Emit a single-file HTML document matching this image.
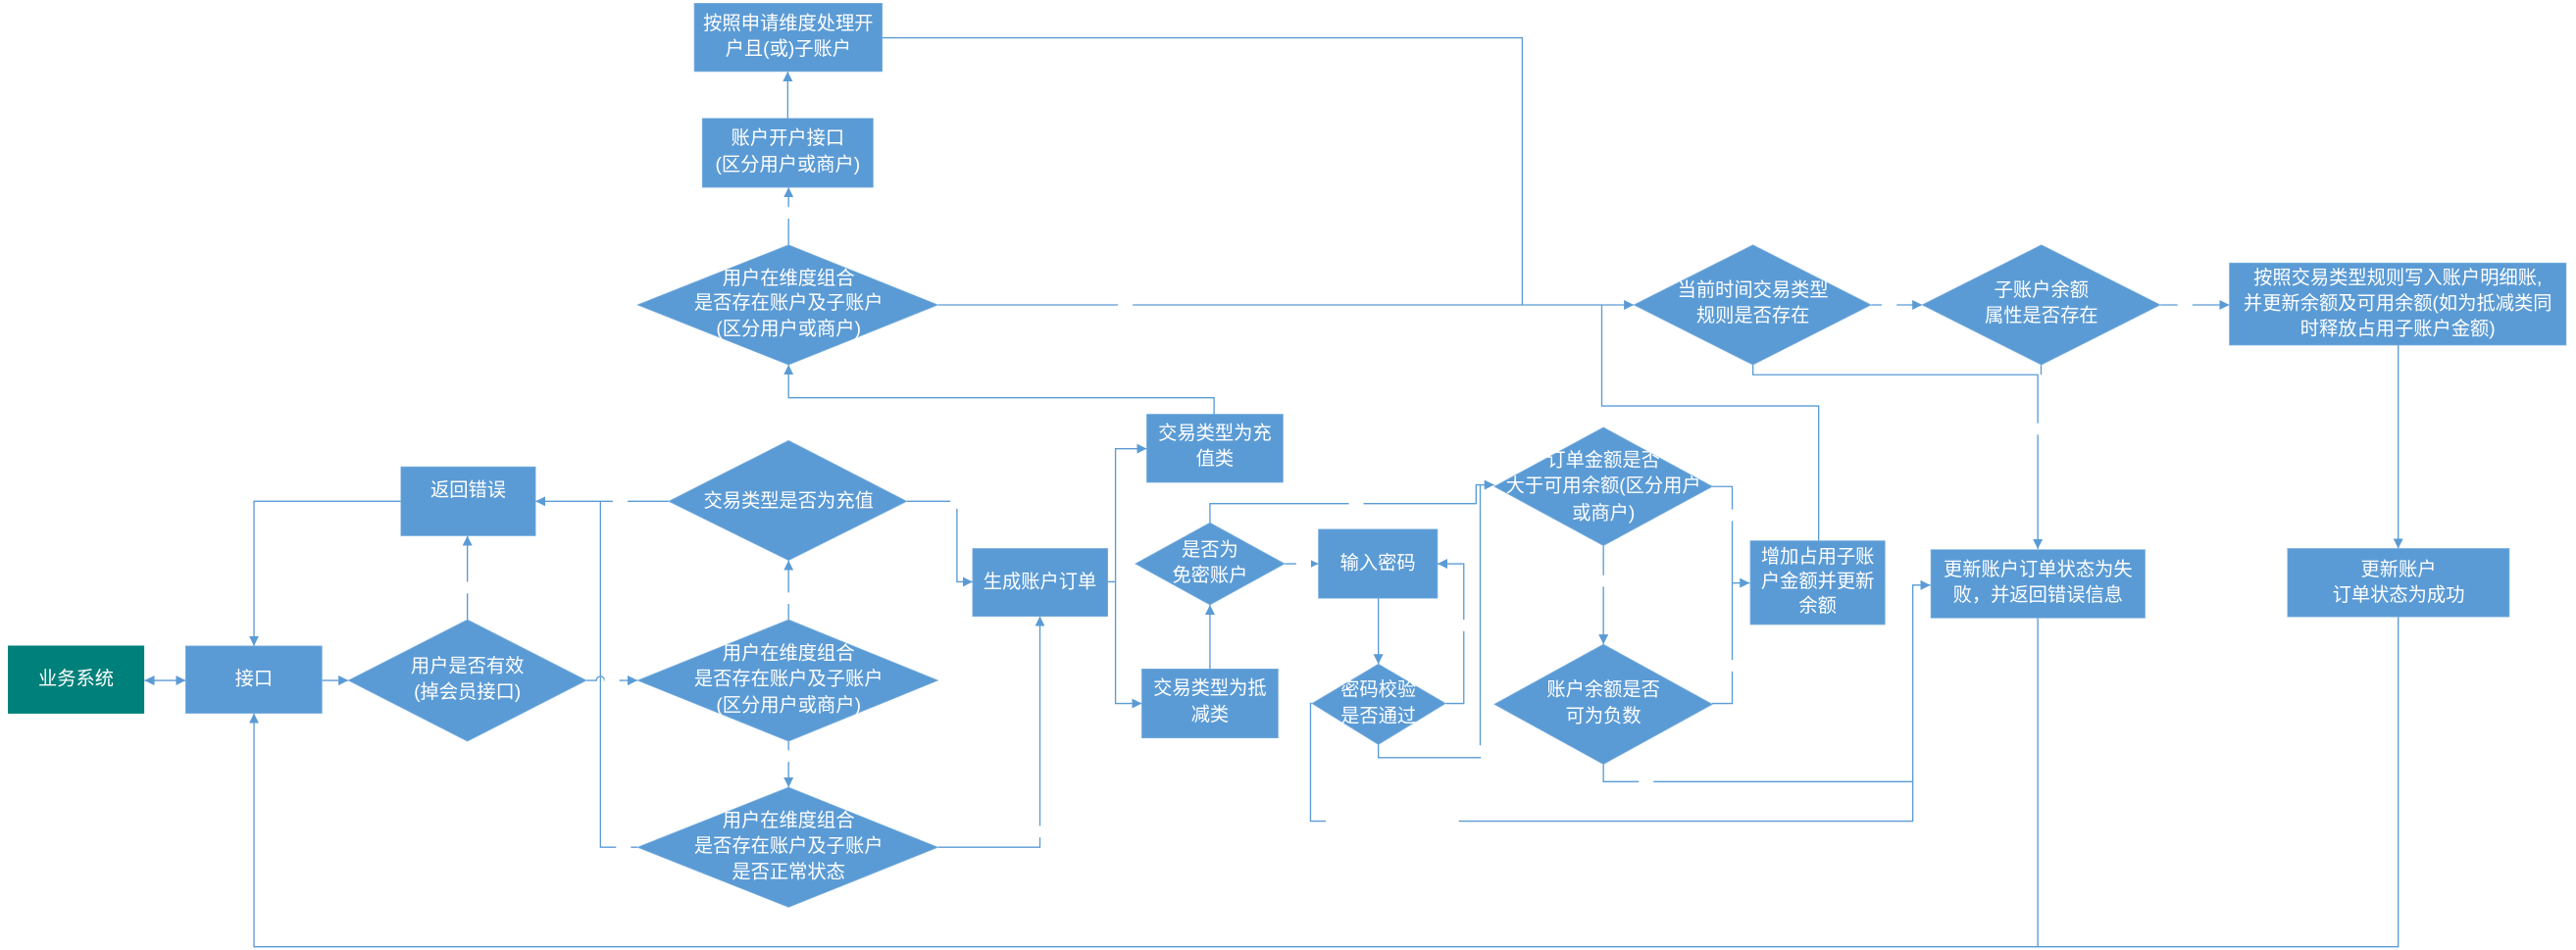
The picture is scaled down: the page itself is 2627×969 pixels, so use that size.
<!DOCTYPE html>
<html><head><meta charset="utf-8"><style>
html,body{margin:0;padding:0;background:#fff;}
svg{display:block;}
text{font-family:"Liberation Sans","Noto Sans CJK SC",sans-serif;fill:#fff;}
.l{fill:#5b9bd5;font-size:5.5px;}
</style></head><body>
<svg width="2627" height="969" viewBox="0 0 1568 578" preserveAspectRatio="none" xmlns="http://www.w3.org/2000/svg">
<defs>
<marker id="a" markerUnits="userSpaceOnUse" markerWidth="8" markerHeight="8" refX="6" refY="3" orient="auto"><path d="M0,0 L6,3 L0,6 z" fill="#5b9bd5"/></marker>
<marker id="s" markerUnits="userSpaceOnUse" markerWidth="8" markerHeight="8" refX="0" refY="3" orient="auto"><path d="M6,0 L0,3 L6,6 z" fill="#5b9bd5"/></marker>
</defs>
<g fill="none" stroke="#5b9bd5" stroke-width="0.8">
<!-- 业务系统 <-> 接口 -->
<path d="M88,414 H113" marker-start="url(#s)" marker-end="url(#a)"/>
<path d="M196,414 H212" marker-end="url(#a)"/>
<path d="M284.5,377 V326" marker-end="url(#a)"/>
<path d="M357,414 H363 a2.5,2.5 0 0 1 5,0 H388" marker-end="url(#a)"/>
<path d="M407,305 H326" marker-end="url(#a)"/>
<path d="M244,305 H154.6 V393" marker-end="url(#a)"/>
<path d="M365.5,305 V515.5 H388"/>
<path d="M480,377 V341" marker-end="url(#a)"/>
<path d="M480,451 V479" marker-end="url(#a)"/>
<path d="M552,305 H582.5 V354 H592" marker-end="url(#a)"/>
<path d="M571,515.5 H633 V375" marker-end="url(#a)"/>
<path d="M480,149 V114" marker-end="url(#a)"/>
<path d="M479.5,72 V43.5" marker-end="url(#a)"/>
<path d="M537,23 H926.6 V185.5"/>
<path d="M571,185.5 H994.5" marker-end="url(#a)"/>
<path d="M674,354 H679 V273 H698" marker-end="url(#a)"/>
<path d="M679,354 V428 H695" marker-end="url(#a)"/>
<path d="M739,252 V242 H480 V222" marker-end="url(#a)"/>
<path d="M736.5,407 V368" marker-end="url(#a)"/>
<path d="M736.5,318 V306.4 H898.5 V295 H909.5" marker-end="url(#a)"/>
<path d="M782,343 H802.5" marker-end="url(#a)"/>
<path d="M839,364 V404" marker-end="url(#a)"/>
<path d="M880,428 H891 V343 H875" marker-end="url(#a)"/>
<path d="M839,453 V461 H901 V295"/>
<path d="M798.5,428 H797.7 V499.6 H1164.3 V356 H1175" marker-end="url(#a)"/>
<path d="M976,332 V392" marker-end="url(#a)"/>
<path d="M1042,296 H1054.4 V428 H1042"/>
<path d="M1054.4,354.7 H1065" marker-end="url(#a)"/>
<path d="M976,465 V475.6 H1164.3"/>
<path d="M1107,329 V247 H975 V185.5"/>
<path d="M1067,222 V228 H1240.4 V334" marker-end="url(#a)"/>
<path d="M1242.4,222 V228"/>
<path d="M1139,185.5 H1170" marker-end="url(#a)"/>
<path d="M1315,185.5 H1357" marker-end="url(#a)"/>
<path d="M1459.8,210 V333.7" marker-end="url(#a)"/>
<path d="M1240.4,376 V576"/>
<path d="M1459.8,375.3 V576 H154.6 V434" marker-end="url(#a)"/>
</g>
<g fill="#5b9bd5" stroke="#7fb3e0" stroke-width="0.4">
<rect x="5" y="393" width="82.6" height="41" fill="#00807a" stroke="#00807a"/>
<rect x="113" y="393" width="83" height="41"/>
<rect x="244" y="284" width="82" height="42"/>
<rect x="427.5" y="72" width="104" height="42"/>
<rect x="422.6" y="2" width="114.4" height="41.5"/>
<rect x="592" y="333.7" width="82.3" height="41.3"/>
<rect x="698" y="252" width="83" height="41.5"/>
<rect x="695" y="407" width="83" height="42"/>
<rect x="802.5" y="322" width="72.5" height="42"/>
<rect x="1065.4" y="329" width="82" height="51"/>
<rect x="1357" y="160" width="205" height="50"/>
<rect x="1175.3" y="334.4" width="130.4" height="41.6"/>
<rect x="1392.4" y="333.7" width="135" height="41.6"/>
<polygon points="212,414 284.5,377 357,414 284.5,451"/>
<polygon points="407,305 480,268 552,305 480,341"/>
<polygon points="388,414 480,377 571,414 480,451"/>
<polygon points="388,515.5 480,479 571,515.5 480,552"/>
<polygon points="388,185.5 480,149 571,185.5 480,222"/>
<polygon points="691,343 736.5,318 782,343 736.5,368"/>
<polygon points="798.5,428 839,404 880,428 839,453"/>
<polygon points="909.5,296 976,260 1042.4,296 976,332"/>
<polygon points="909.5,428.5 976,392 1042.4,428.5 976,465"/>
<polygon points="994.5,185.5 1067,149 1139,185.5 1067,222"/>
<polygon points="1170,185.5 1242.6,149 1315,185.5 1242.6,222"/>
</g>
<g font-size="11.5" text-anchor="middle" dominant-baseline="central">
<text x="46.3" y="413.5">业务系统</text>
<text x="154.5" y="413.5">接口</text>
<text x="285" y="298.5">返回错误</text>
<text x="284.5" y="405.5">用户是否有效</text>
<text x="284.5" y="421.5">(掉会员接口)</text>
<text x="480" y="305">交易类型是否为充值</text>
<text x="480" y="398">用户在维度组合</text>
<text x="480" y="413.5">是否存在账户及子账户</text>
<text x="480" y="429.5">(区分用户或商户)</text>
<text x="480" y="499.5">用户在维度组合</text>
<text x="480" y="515">是否存在账户及子账户</text>
<text x="480" y="531">是否正常状态</text>
<text x="480" y="169.6">用户在维度组合</text>
<text x="480" y="184.7">是否存在账户及子账户</text>
<text x="480" y="200.5">(区分用户或商户)</text>
<text x="479.5" y="84.5">账户开户接口</text>
<text x="479.5" y="100.5">(区分用户或商户)</text>
<text x="479.8" y="14.5">按照申请维度处理开</text>
<text x="479.8" y="30">户且(或)子账户</text>
<text x="633" y="354.3">生成账户订单</text>
<text x="739.5" y="264">交易类型为充</text>
<text x="739.5" y="279.5">值类</text>
<text x="736.5" y="419">交易类型为抵</text>
<text x="736.5" y="435">减类</text>
<text x="736.5" y="335">是否为</text>
<text x="736.5" y="350.5">免密账户</text>
<text x="838.7" y="343">输入密码</text>
<text x="839" y="420">密码校验</text>
<text x="839" y="436">是否通过</text>
<text x="976" y="280.5">订单金额是否</text>
<text x="976" y="296">大于可用余额(区分用户</text>
<text x="976" y="312.5">或商户)</text>
<text x="976" y="420">账户余额是否</text>
<text x="976" y="436">可为负数</text>
<text x="1067" y="177">当前时间交易类型</text>
<text x="1067" y="192.5">规则是否存在</text>
<text x="1242.6" y="177">子账户余额</text>
<text x="1242.6" y="192.5">属性是否存在</text>
<text x="1106.4" y="339">增加占用子账</text>
<text x="1106.4" y="354">户金额并更新</text>
<text x="1106.4" y="369">余额</text>
<text x="1459.5" y="169.5">按照交易类型规则写入账户明细账,</text>
<text x="1459.5" y="185">并更新余额及可用余额(如为抵减类同</text>
<text x="1459.5" y="200.5">时释放占用子账户金额)</text>
<text x="1240.5" y="347">更新账户订单状态为失</text>
<text x="1240.5" y="362.5">败，并返回错误信息</text>
<text x="1460" y="347">更新账户</text>
<text x="1460" y="362.5">订单状态为成功</text>
</g>
<g class="l" text-anchor="middle" dominant-baseline="central">
<rect x="280" y="354" width="9" height="7" fill="#fff"/><text x="284.5" y="357.6">否</text>
<rect x="368" y="410.5" width="9" height="7" fill="#fff"/><text x="372.5" y="414">是</text>
<rect x="373" y="301.5" width="9" height="7" fill="#fff"/><text x="377.5" y="305">否</text>
<rect x="375" y="512" width="9" height="7" fill="#fff"/><text x="379" y="515.5">否</text>
<rect x="475.5" y="360.5" width="9" height="7" fill="#fff"/><text x="480" y="364">否</text>
<rect x="475.5" y="456.5" width="9" height="7" fill="#fff"/><text x="480" y="460">是</text>
<rect x="578.5" y="302.5" width="9" height="7" fill="#fff"/><text x="583" y="306">是</text>
<rect x="628.5" y="502.5" width="9" height="7" fill="#fff"/><text x="633" y="506">是</text>
<rect x="475.5" y="126" width="9" height="7" fill="#fff"/><text x="480" y="129.5">否</text>
<rect x="680.5" y="183.5" width="9" height="7" fill="#fff"/><text x="685" y="187">是</text>
<rect x="821" y="303" width="9" height="7" fill="#fff"/><text x="825.5" y="306">是</text>
<rect x="789" y="339.5" width="9" height="7" fill="#fff"/><text x="793.5" y="341">否</text>
<rect x="886.5" y="377" width="9" height="7" fill="#fff"/><text x="891" y="380.5">否</text>
<rect x="894" y="453.5" width="9" height="7" fill="#fff"/><text x="898.5" y="457">是</text>
<rect x="807" y="494" width="81" height="7" fill="#fff"/><text x="847.5" y="497">否，N次不通过，报错</text>
<rect x="971.5" y="350" width="9" height="7" fill="#fff"/><text x="976" y="353.5">是</text>
<rect x="1050" y="310" width="9" height="7" fill="#fff"/><text x="1054.4" y="313.6">否</text>
<rect x="1050" y="401.5" width="9" height="7" fill="#fff"/><text x="1054.4" y="405">是</text>
<rect x="997.5" y="472" width="9" height="7" fill="#fff"/><text x="1002" y="475.6">否</text>
<rect x="1236.5" y="257.5" width="9" height="7" fill="#fff"/><text x="1241" y="261">否</text>
<rect x="1145.5" y="182" width="9" height="7" fill="#fff"/><text x="1150" y="185.5">是</text>
<rect x="1325.5" y="182" width="9" height="7" fill="#fff"/><text x="1330" y="185.5">是</text>
</g>
</svg>
</body></html>
